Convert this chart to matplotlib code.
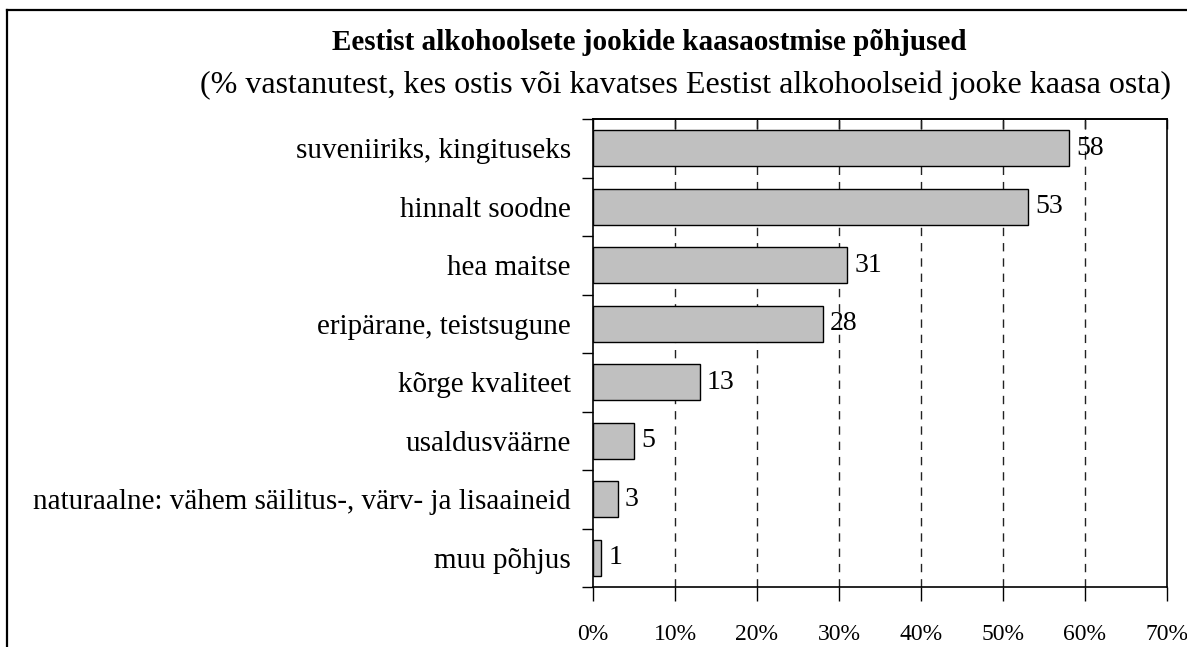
import matplotlib
matplotlib.use("Agg")
import matplotlib.pyplot as plt
from matplotlib.lines import Line2D
from matplotlib.ticker import FixedLocator

plt.rcParams["font.family"] = ["Liberation Serif", "DejaVu Serif"]

# andmed
pohjused = [
    "suveniiriks, kingituseks",
    "hinnalt soodne",
    "hea maitse",
    "eripärane, teistsugune",
    "kõrge kvaliteet",
    "usaldusväärne",
    "naturaalne: vähem säilitus-, värv- ja lisaaineid",
    "muu põhjus",
]
protsent = [58, 53, 31, 28, 13, 5, 3, 1]
x_ticks = [0, 10, 20, 30, 40, 50, 60, 70]

W, H = 1187, 647
fig = plt.figure(figsize=(W / 100, H / 100), dpi=100)

# valine raam (paremal ja all pildist valjas)
fig.add_artist(Line2D([7 / W, 1.0], [1 - 10 / H, 1 - 10 / H], color="black", lw=1.6))
fig.add_artist(Line2D([7 / W, 7 / W], [0, 1 - 10 / H], color="black", lw=1.6))

fig.text(649 / W, 1 - 42 / H, "Eestist alkohoolsete jookide kaasaostmise põhjused",
         ha="center", va="center", fontsize=21, fontweight="bold")
fig.text(685 / W, 1 - 85 / H,
         "(% vastanutest, kes ostis või kavatses Eestist alkohoolseid jooke kaasa osta)",
         ha="center", va="center", fontsize=23)

ax = fig.add_axes([593 / W, 60 / H, 574 / W, 468 / H])
y = list(range(len(pohjused)))
ax.barh(y, protsent, height=0.62, color="#c0c0c0", edgecolor="black", linewidth=1, zorder=3)
for yi, v in zip(y, protsent):
    ax.text(v + 0.9, yi, str(v), va="center", ha="left", fontsize=20, zorder=4)

ax.set_xlim(0, 70)
ax.set_ylim(len(pohjused) - 0.5, -0.5)

ax.set_xticks(x_ticks)
ax.set_xticklabels([f"{t}%" for t in x_ticks], fontsize=17)
ax.tick_params(axis="x", direction="out", length=10, width=1, pad=17)

ax.set_yticks(y)
ax.set_yticklabels(pohjused, fontsize=21)
ax.yaxis.set_minor_locator(FixedLocator([i - 0.5 for i in range(len(pohjused) + 1)]))
ax.tick_params(axis="y", which="major", length=0, pad=16)
ax.tick_params(axis="y", which="minor", length=8, width=1, direction="out")

for t in x_ticks[1:-1]:
    ax.axvline(t, color="#222222", lw=1, linestyle=(0, (6, 5)), zorder=1)

for s in ax.spines.values():
    s.set_linewidth(1.2)

top = ax.secondary_xaxis("top")
top.set_xticks(x_ticks)
top.set_xticklabels([])
top.tick_params(direction="in", length=7, width=1)
top.spines["top"].set_linewidth(1.2)

fig.savefig("out.png", dpi=100)
